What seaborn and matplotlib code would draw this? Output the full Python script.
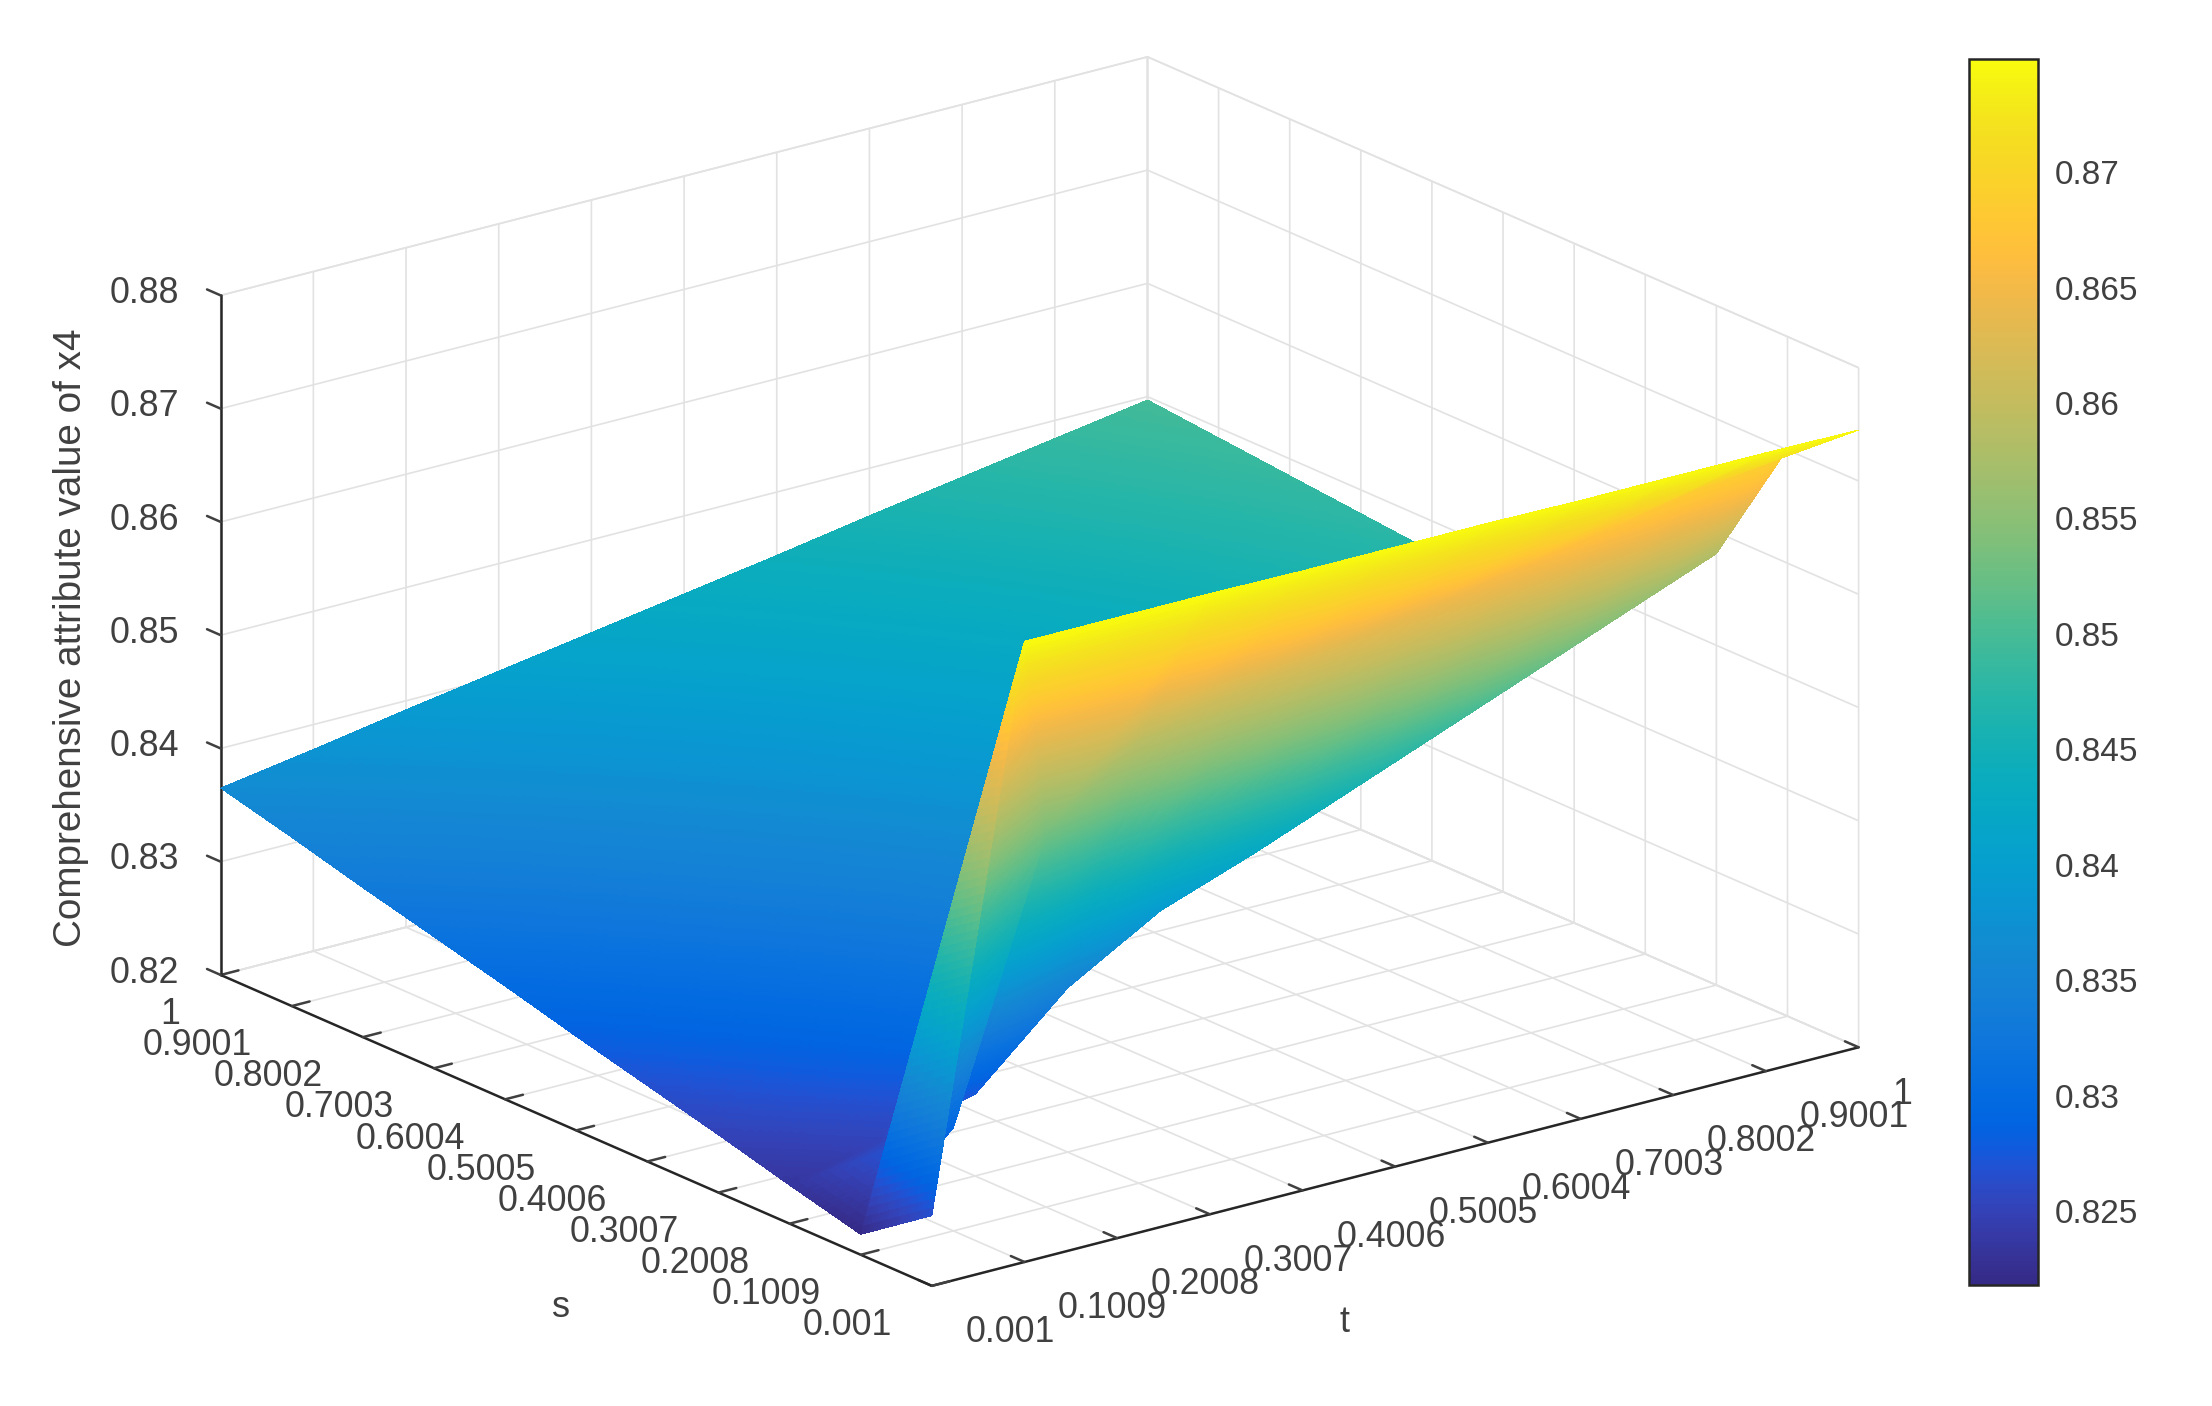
import numpy as np
import matplotlib
matplotlib.use('Agg')
import matplotlib.pyplot as plt
import matplotlib.tri as mtri
import seaborn as sns

# eixos
s_vals = [0.001, 0.1009, 0.2008, 0.3007, 0.4006, 0.5005, 0.6004, 0.7003, 0.8002, 0.9001, 1.0]
t_vals = [0.001, 0.1009, 0.2008, 0.3007, 0.4006, 0.5005, 0.6004, 0.7003, 0.8002, 0.9001, 1.0]
s_labels = ['0.001', '0.1009', '0.2008', '0.3007', '0.4006', '0.5005', '0.6004', '0.7003', '0.8002', '0.9001', '1']
t_labels = s_labels
z_ticks = [0.82, 0.83, 0.84, 0.85, 0.86, 0.87, 0.88]
z_labels = ['0.82', '0.83', '0.84', '0.85', '0.86', '0.87', '0.88']
cbar_ticks = [0.825, 0.83, 0.835, 0.84, 0.845, 0.85, 0.855, 0.86, 0.865, 0.87]
cbar_labels = ['0.825', '0.83', '0.835', '0.84', '0.845', '0.85', '0.855', '0.86', '0.865', '0.87']
z_min, z_max = 0.8218, 0.8749

# valores: uma linha por s, uma coluna por t
z_s00 = [0.8262, 0.8748, 0.8748, 0.8748, 0.8747, 0.8747, 0.8747, 0.8746, 0.8746, 0.8746, 0.8745]
z_s01 = [0.8218, 0.8291, 0.8530, 0.8590, 0.8610, 0.8625, 0.8640, 0.8655, 0.8670, 0.8686, 0.8701]
z_s02 = [0.8234, 0.8252, 0.8272, 0.8345, 0.8392, 0.8421, 0.8453, 0.8485, 0.8517, 0.8549, 0.8581]
z_s03 = [0.8251, 0.8272, 0.8292, 0.8313, 0.8333, 0.8358, 0.8390, 0.8420, 0.8453, 0.8485, 0.8515]
z_s04 = [0.8267, 0.8287, 0.8306, 0.8326, 0.8345, 0.8365, 0.8384, 0.8404, 0.8423, 0.8443, 0.8462]
z_s05 = [0.8283, 0.8302, 0.8320, 0.8338, 0.8357, 0.8376, 0.8394, 0.8413, 0.8431, 0.8450, 0.8468]
z_s06 = [0.8300, 0.8317, 0.8335, 0.8352, 0.8369, 0.8387, 0.8404, 0.8421, 0.8438, 0.8456, 0.8473]
z_s07 = [0.8316, 0.8332, 0.8349, 0.8365, 0.8381, 0.8398, 0.8414, 0.8430, 0.8446, 0.8463, 0.8479]
z_s08 = [0.8332, 0.8347, 0.8363, 0.8378, 0.8393, 0.8409, 0.8424, 0.8439, 0.8454, 0.8470, 0.8485]
z_s09 = [0.8349, 0.8363, 0.8377, 0.8391, 0.8406, 0.8420, 0.8434, 0.8448, 0.8463, 0.8477, 0.8491]
z_s10 = [0.8365, 0.8378, 0.8392, 0.8405, 0.8418, 0.8431, 0.8444, 0.8458, 0.8471, 0.8484, 0.8497]

# parula do MATLAB
parula_colors = [
    (0.2081, 0.1663, 0.5292), (0.2116, 0.1898, 0.5777), (0.2123, 0.2138, 0.6270), (0.2081, 0.2386, 0.6771),
    (0.1959, 0.2645, 0.7279), (0.1707, 0.2919, 0.7792), (0.1253, 0.3242, 0.8303), (0.0591, 0.3598, 0.8683),
    (0.0117, 0.3875, 0.8820), (0.0060, 0.4086, 0.8828), (0.0165, 0.4266, 0.8786), (0.0329, 0.4430, 0.8720),
    (0.0498, 0.4586, 0.8641), (0.0629, 0.4737, 0.8554), (0.0723, 0.4887, 0.8467), (0.0779, 0.5040, 0.8384),
    (0.0793, 0.5200, 0.8312), (0.0749, 0.5375, 0.8263), (0.0641, 0.5570, 0.8240), (0.0488, 0.5772, 0.8228),
    (0.0343, 0.5966, 0.8199), (0.0265, 0.6137, 0.8135), (0.0239, 0.6287, 0.8038), (0.0231, 0.6418, 0.7913),
    (0.0228, 0.6535, 0.7768), (0.0267, 0.6642, 0.7607), (0.0384, 0.6743, 0.7436), (0.0590, 0.6838, 0.7254),
    (0.0843, 0.6928, 0.7062), (0.1133, 0.7015, 0.6859), (0.1453, 0.7098, 0.6646), (0.1801, 0.7177, 0.6424),
    (0.2178, 0.7250, 0.6193), (0.2586, 0.7317, 0.5954), (0.3022, 0.7376, 0.5712), (0.3482, 0.7424, 0.5473),
    (0.3953, 0.7459, 0.5244), (0.4420, 0.7481, 0.5033), (0.4871, 0.7491, 0.4840), (0.5300, 0.7491, 0.4661),
    (0.5709, 0.7485, 0.4494), (0.6099, 0.7473, 0.4337), (0.6473, 0.7456, 0.4188), (0.6834, 0.7435, 0.4044),
    (0.7184, 0.7411, 0.3905), (0.7525, 0.7384, 0.3768), (0.7858, 0.7356, 0.3633), (0.8185, 0.7327, 0.3498),
    (0.8507, 0.7299, 0.3360), (0.8824, 0.7274, 0.3217), (0.9139, 0.7258, 0.3063), (0.9450, 0.7261, 0.2886),
    (0.9739, 0.7314, 0.2666), (0.9938, 0.7455, 0.2403), (0.9990, 0.7653, 0.2164), (0.9955, 0.7861, 0.1967),
    (0.9880, 0.8066, 0.1794), (0.9789, 0.8271, 0.1633), (0.9697, 0.8481, 0.1475), (0.9626, 0.8705, 0.1309),
    (0.9589, 0.8949, 0.1132), (0.9598, 0.9218, 0.0948), (0.9661, 0.9514, 0.0755), (0.9763, 0.9831, 0.0538),
]

sns.set_theme(style='white')
plt.rcParams['font.family'] = ['Liberation Sans', 'DejaVu Sans']
plt.rcParams['grid.color'] = '#e2e2e2'
plt.rcParams['grid.linewidth'] = 0.6
text_color = '#404040'
line_color = '#262626'
parula = sns.blend_palette(parula_colors, n_colors=256, as_cmap=True)

z_table = np.array([z_s00, z_s01, z_s02, z_s03, z_s04, z_s05, z_s06, z_s07, z_s08, z_s09, z_s10])
T, S = np.meshgrid(t_vals, s_vals)
x_nodes = T.ravel()
y_nodes = S.ravel()
z_nodes = z_table.ravel()

# triangulos como no surf do MATLAB
n_s, n_t = z_table.shape
triangles = []
for i in range(n_s - 1):
    for j in range(n_t - 1):
        a = i * n_t + j
        b = a + 1
        c = a + n_t
        d = c + 1
        if (i, j) == (0, 1):
            # nesta celula a dobra vai do topo da crista para baixo
            triangles.append([a, b, d])
            triangles.append([a, d, c])
        else:
            triangles.append([a, b, c])
            triangles.append([b, d, c])
triangles = np.array(triangles)


def subdivide(tris, subdiv):
    # "shading interp": parte os triangulos so para o degrade de cor
    base = mtri.Triangulation(x_nodes, y_nodes, tris)
    return mtri.UniformTriRefiner(base).refine_field(z_nodes, mtri.LinearTriInterpolator(base, z_nodes), subdiv=subdiv)


# a parede ingreme precisa de mais divisoes que o plano
steep = np.ptp(z_nodes[triangles], axis=1) > 0.01
fine_a, z_a = subdivide(triangles[~steep], 4)
fine_b, z_b = subdivide(triangles[steep], 6)
x_fine = np.concatenate([fine_a.x, fine_b.x])
y_fine = np.concatenate([fine_a.y, fine_b.y])
z_fine = np.concatenate([z_a, z_b])
tris_fine = np.concatenate([fine_a.triangles, fine_b.triangles + len(fine_a.x)])

fig = plt.figure(figsize=(11.06, 7.03), dpi=200)
fig.patch.set_facecolor('white')
ax = fig.add_axes([141 / 2212, -164 / 1406, 1750 / 2212, 1750 / 1406], projection='3d')
ax.patch.set_alpha(0)
ax.set_proj_type('ortho')
ax.view_init(elev=19.6, azim=-127.5)
ax.set_box_aspect((1, 1, 0.6175))

surf = ax.plot_trisurf(x_fine, y_fine, z_fine, triangles=tris_fine, cmap=parula, vmin=z_min, vmax=z_max,
                       linewidth=0, antialiased=False, shade=False)

ax.set_xlim(0.001, 1, view_margin=0)
ax.set_ylim(0.001, 1, view_margin=0)
ax.set_zlim(0.82, 0.88, view_margin=0)
ax.set_xticks(t_vals)
ax.set_xticklabels(t_labels)
ax.set_yticks(s_vals)
ax.set_yticklabels(s_labels)
ax.set_zticks(z_ticks)
ax.set_zticklabels(z_labels)

for axis in [ax.xaxis, ax.yaxis, ax.zaxis]:
    axis.set_pane_color((1, 1, 1, 1))
    axis.pane.set_edgecolor('#e2e2e2')
    axis.pane.set_linewidth(0.6)
    axis.line.set_color(line_color)
    axis.line.set_linewidth(0.9)
    axis._axinfo['tick'].update({'inward_factor': 0, 'outward_factor': 0.24, 'linewidth': {True: 0.9, False: 0.5}})
ax.zaxis._get_tickdir = lambda pos: 1

ax.tick_params(axis='both', which='major', labelsize=12.9, colors=text_color)
ax.tick_params(axis='x', pad=7.5)
ax.tick_params(axis='y', pad=6.2)
ax.tick_params(axis='z', pad=0.3)
for lab in ax.get_xticklabels():
    lab.set_ha('left')
    lab.set_va('center')
for lab in ax.get_yticklabels():
    lab.set_ha('right')
    lab.set_va('center')
for lab in ax.get_zticklabels():
    lab.set_ha('right')
    lab.set_va('center')

# rotulos dos eixos
fig.text(953 / 1568, 1 - 938 / 997, 't', fontsize=13, color=text_color, ha='center', va='center')
fig.text(398 / 1568, 1 - 927 / 997, 's', fontsize=13, color=text_color, ha='center', va='center')
fig.text(50 / 1568, 1 - 452 / 997, 'Comprehensive attribute value of x4', fontsize=13.9, color=text_color,
         rotation=90, ha='center', va='center')

# barra de cor
cax = fig.add_axes([1969 / 2212, 1 - 1285 / 1406, 69 / 2212, 1226 / 1406])
cb = fig.colorbar(surf, cax=cax)
cb.set_ticks(cbar_ticks)
cb.set_ticklabels(cbar_labels)
cb.ax.tick_params(direction='in', length=7, width=0.7, color='#262626', labelcolor=text_color, labelsize=12, pad=6)
cb.outline.set_edgecolor('#262626')
cb.outline.set_linewidth(0.9)

fig.savefig('out.png', dpi=200)
